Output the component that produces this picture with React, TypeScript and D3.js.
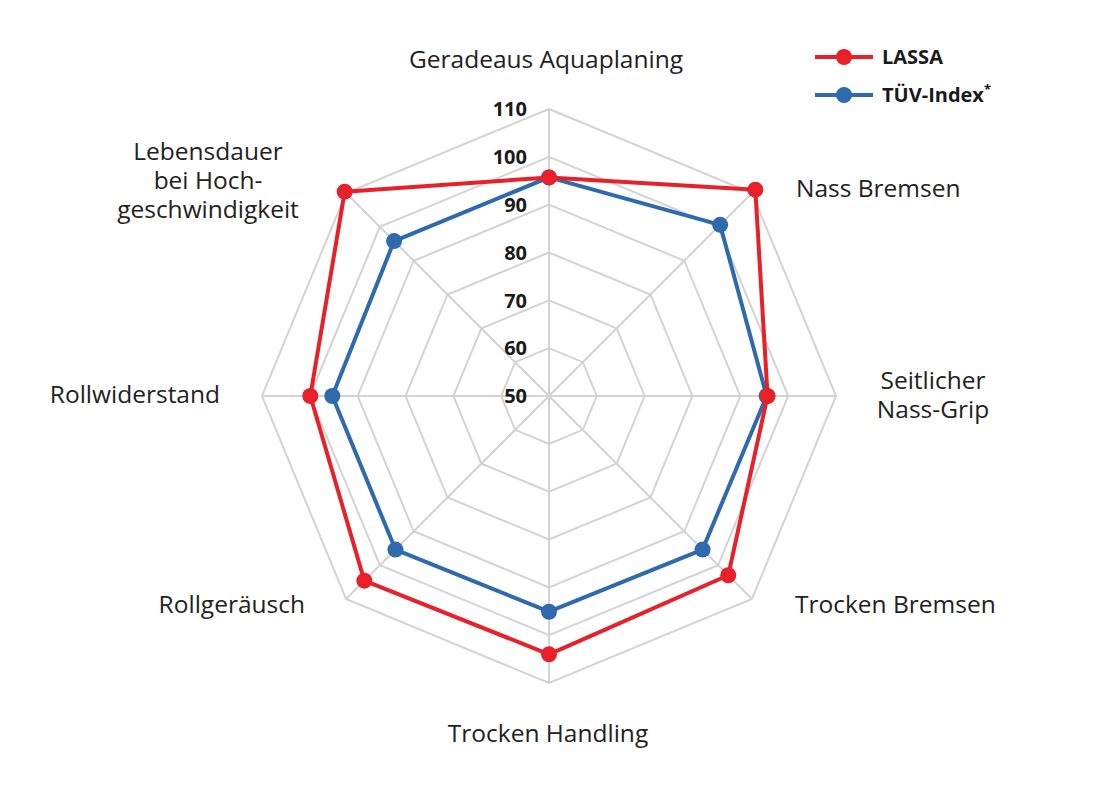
import React from 'react';
import * as d3 from 'd3';

const axes = [
  ['Geradeaus Aquaplaning'],
  ['Nass Bremsen'],
  ['Seitlicher', 'Nass-Grip'],
  ['Trocken Bremsen'],
  ['Trocken Handling'],
  ['Rollgeräusch'],
  ['Rollwiderstand'],
  ['Lebensdauer', 'bei Hoch-', 'geschwindigkeit'],
];
const lassa = [95.7, 111, 95.7, 103, 104, 104.6, 99.9, 110.4];
const tuev = [95.7, 100.6, 95.5, 95.4, 95.1, 95.4, 95.3, 95.8];
const ticks = [50, 60, 70, 80, 90, 100, 110];

const RED = '#E8202A';
const BLUE = '#2F69AE';
const GRID = '#d3d3d3';
const FONT = '"Open Sans", "Noto Sans", sans-serif';

// label placement per axis: [x, y, anchor]
const labelPos: [number, number, string][] = [
  [546, 68, 'middle'],
  [796, 197, 'start'],
  [933, 389, 'middle'],
  [795, 613, 'start'],
  [548, 742, 'middle'],
  [305, 613, 'end'],
  [220, 403, 'end'],
  [208, 160, 'middle'],
];

export default function App() {
  const cx = 549;
  const cy = 396;
  const r = d3.scaleLinear().domain([50, 110]).range([0, 287]);
  const angle = (i: number) => (i * 2 * Math.PI) / axes.length;
  const pt = (i: number, v: number): [number, number] => [
    cx + r(v) * Math.sin(angle(i)),
    cy - r(v) * Math.cos(angle(i)),
  ];
  const ring = (v: number) =>
    d3.line()(axes.map((_, i) => pt(i, v)).concat([pt(0, v)])) as string;
  const seriesPath = (vals: number[]) =>
    d3.line()(vals.map((v, i) => pt(i, v)).concat([pt(0, vals[0])])) as string;

  const series = [
    { name: 'LASSA', color: RED, vals: lassa },
    { name: 'TÜV-Index', color: BLUE, vals: tuev },
  ];

  return (
    <svg width={1100} height={794} style={{ position: 'absolute', left: 0, top: 0, background: '#fff' }} fontFamily={FONT}>
      <g>
        {ticks.slice(1).map((t) => (
          <path key={t} d={ring(t)} fill="none" stroke={GRID} strokeWidth={2} />
        ))}
        {axes.map((_, i) => {
          const [x, y] = pt(i, 110);
          return <line key={i} x1={cx} y1={cy} x2={x} y2={y} stroke={GRID} strokeWidth={2} />;
        })}
      </g>
      {ticks.map((t) => (
        <text key={t} x={cx - 22} y={cy - r(t)} dy="0.36em" textAnchor="end" fontWeight="bold" fontSize={20} fill="#1a1a1a">
          {t}
        </text>
      ))}
      {series.slice().reverse().map((s) => (
        <g key={s.name}>
          <path d={seriesPath(s.vals)} fill="none" stroke={s.color} strokeWidth={4} strokeLinejoin="round" />
          {s.vals.map((v, i) => {
            const [x, y] = pt(i, v);
            return <circle key={i} cx={x} cy={y} r={8} fill={s.color} />;
          })}
        </g>
      ))}
      {axes.map((lines, i) => {
        const [x, y, anchor] = labelPos[i];
        return (
          <text key={i} x={x} y={y} textAnchor={anchor as any} fontSize={24.5} fill="#222">
            {lines.map((l, j) => (
              <tspan key={j} x={x} dy={j === 0 ? 0 : 29}>{l}</tspan>
            ))}
          </text>
        );
      })}
      {series.map((s, i) => {
        const y = 57 + i * 38;
        return (
          <g key={s.name}>
            <line x1={815} x2={873} y1={y} y2={y} stroke={s.color} strokeWidth={4} />
            <circle cx={844} cy={y} r={8} fill={s.color} />
            <text x={882} y={y} dy="0.36em" fontSize={20} fontWeight="bold" fill="#1a1a1a">
              {s.name}
              <tspan dy={-8} fontSize={13}>{i === 1 ? '*' : ''}</tspan>
            </text>
          </g>
        );
      })}
    </svg>
  );
}
